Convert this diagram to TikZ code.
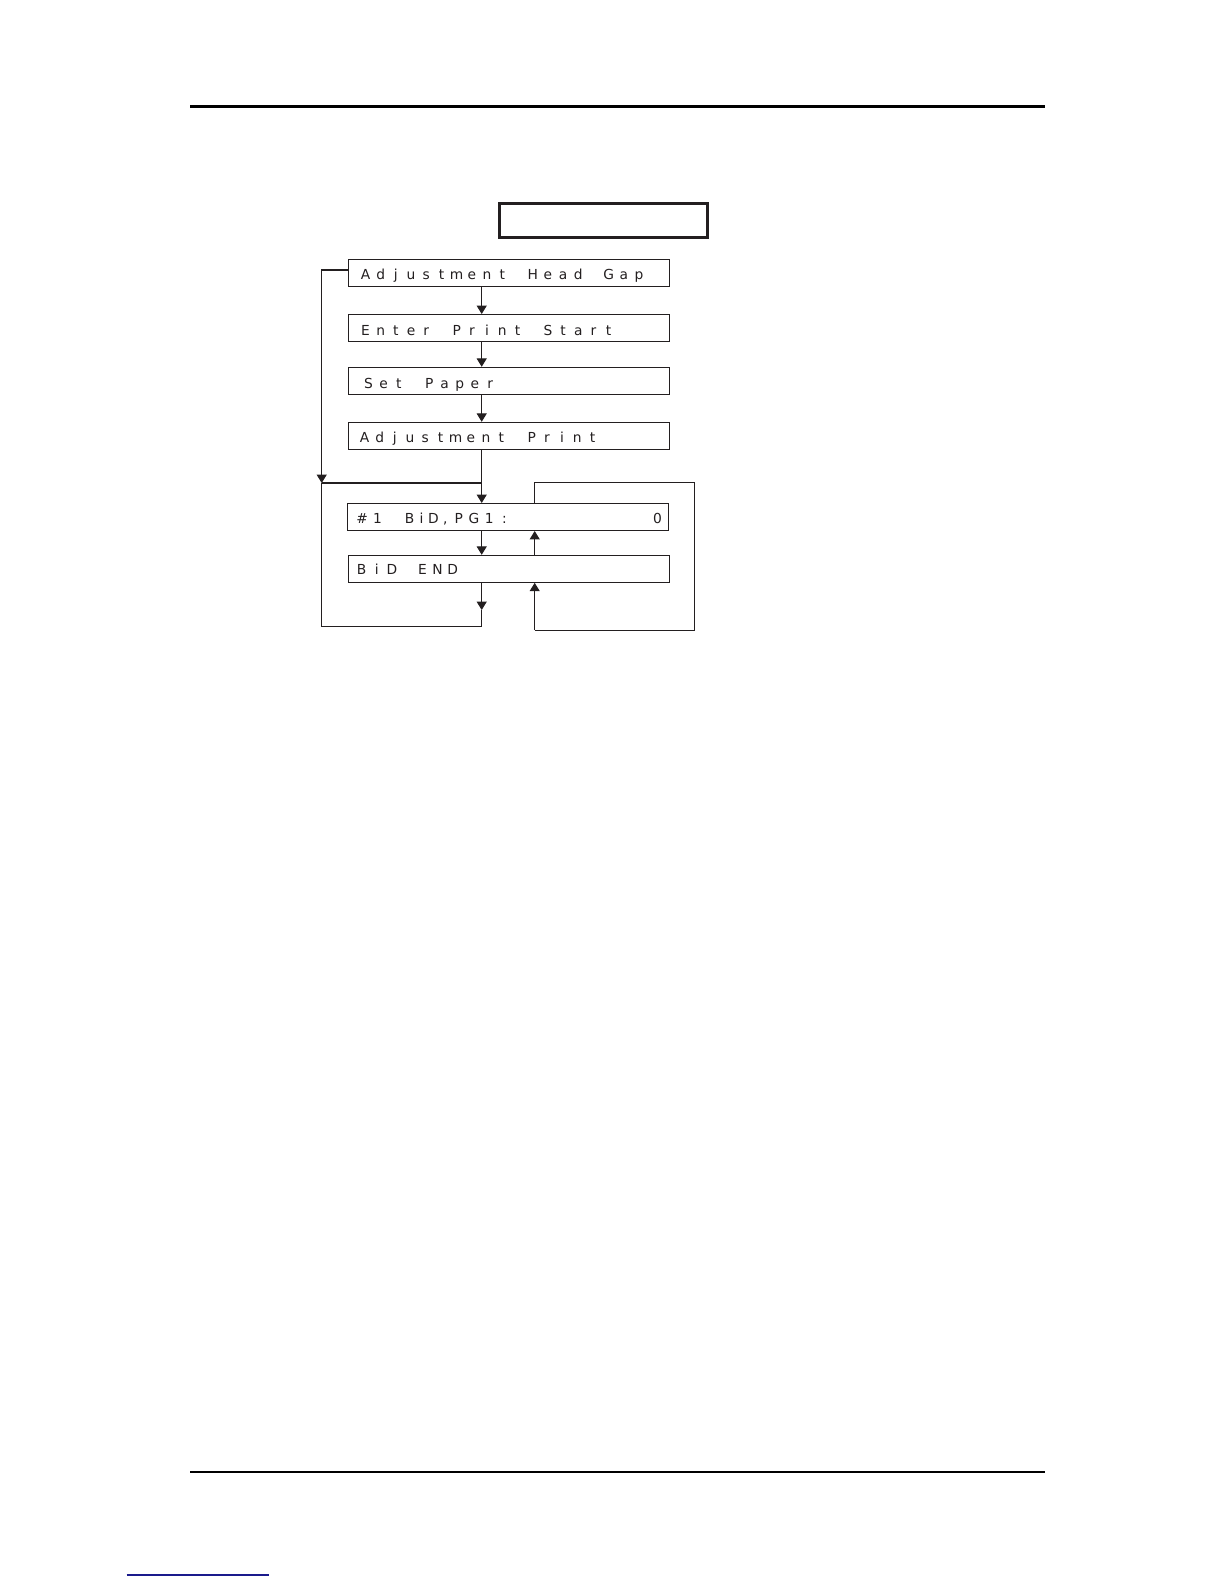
\documentclass[tikz,border=0pt]{standalone}
\usepackage{fontspec}
\setmainfont{DejaVu Sans}
\usetikzlibrary{arrows.meta,calc}
\definecolor{ink}{RGB}{35,31,32}
\definecolor{linkblue}{RGB}{26,26,140}
\ExplSyntaxOn
\NewDocumentCommand\cellsw{mm}{\str_map_inline:nn {#2}{\makebox[#1]{##1}}}
\ExplSyntaxOff
\newcommand\cells[1]{\cellsw{7.6pt}{#1}}
\tikzset{
  box/.style={draw=ink, line width=0.5pt, inner sep=0pt, minimum width=160.5pt, minimum height=13.5pt},
  lbl/.style={inner sep=0pt, anchor=base west, text=ink, font=\fontsize{6.9pt}{8pt}\selectfont},
  conn/.style={draw=ink, line width=0.55pt},
  arr/.style={conn, -{Triangle[length=4.2pt,width=5pt]}},
  rule/.style={draw=black, line width=1.3pt}
}
\begin{document}
\begin{tikzpicture}[x=0.5pt,y=-0.5pt]
\useasboundingbox (0,0) rectangle (1224,1584);
% page rules
\coordinate (r1a) at (190,106.3);
\coordinate (r1b) at (1045,106.3);
\coordinate (r2a) at (190,1472);
\coordinate (r2b) at (1045,1472);
\coordinate (l1a) at (126.7,1575);
\coordinate (l1b) at (269,1575);
\draw[rule] (r1a) -- (r1b);
\draw[rule, line width=1.2pt] (r2a) -- (r2b);
\draw[linkblue, line width=0.65pt] (l1a) -- (l1b);
% title box (empty)
\node[draw=ink, line width=1.65pt, inner sep=0pt, minimum width=103.85pt, minimum height=16.85pt] (title) at (603.5,220.5) {};
% boxes
\node[box] (b1) at (508.5,272.5) {};
\node[box] (b2) at (508.5,328) {};
\node[box] (b3) at (508.5,380.8) {};
\node[box] (b4) at (508.5,435.8) {};
\node[box] (b5) at (507.5,517) {};
\node[box] (b6) at (509,568.8) {};
% labels
\node[lbl] (t1) at ($(b1.west)+(10,6.5)$) {\cells{Adjustment Head Gap}};
\node[lbl] (t2) at ($(b2.west)+(10,7)$) {\cells{Enter Print Start}};
\node[lbl] (t3) at ($(b3.west)+(13,7.5)$) {\cells{Set Paper}};
\node[lbl] (t4) at ($(b4.west)+(9,6.5)$) {\cells{Adjustment Print}};
\node[lbl] (t5) at ($(b5.west)+(7.7,6.3)$) {\makebox[155.3pt][l]{\makebox[7.6pt]{\#}\cells{1 }\hspace{1.7pt}\cellsw{5.95pt}{BiD,}\cells{PG1:}\hfill\cells{0}}};
\node[lbl] (t6) at ($(b6.west)+(5.6,5.5)$) {\cells{BiD END}};
% connector coordinates
\coordinate (jL) at (321.7,483);
\coordinate (jM) at (481.7,483);
\coordinate (aM) at (481.7,610);
\coordinate (bM) at (481.7,626.7);
\coordinate (bL) at (321.7,626.7);
\coordinate (jR) at (534.7,482.7);
\coordinate (tR) at (694.7,482.7);
\coordinate (bR) at (694.7,630.3);
\coordinate (bRL) at (534.7,630.3);
% main chain
\draw[arr] (jM |- b1.south) -- (jM |- b2.north);
\draw[arr] (jM |- b2.south) -- (jM |- b3.north);
\draw[arr] (jM |- b3.south) -- (jM |- b4.north);
\draw[conn] (jM |- b4.south) -- (jM);
\draw[arr] (jM) -- (jM |- b5.north);
\draw[arr] (jM |- b5.south) -- (jM |- b6.north);
% left loop
\draw[arr] ($(b1.west)+(0,-2.5)$) -| (jL);
\draw[conn] (jL) -- (jM);
\draw[arr] (jM |- b6.south) -- (aM);
\draw[conn] (aM) -- (bM) -- (bL) -- (jL);
% right loop
\draw[conn] (jR |- b5.north) -- (jR) -- (tR) -- (bR) -- (bRL);
\draw[arr] (bRL) -- (jR |- b6.south);
\draw[arr] (jR |- b6.north) -- (jR |- b5.south);
\end{tikzpicture}
\end{document}
